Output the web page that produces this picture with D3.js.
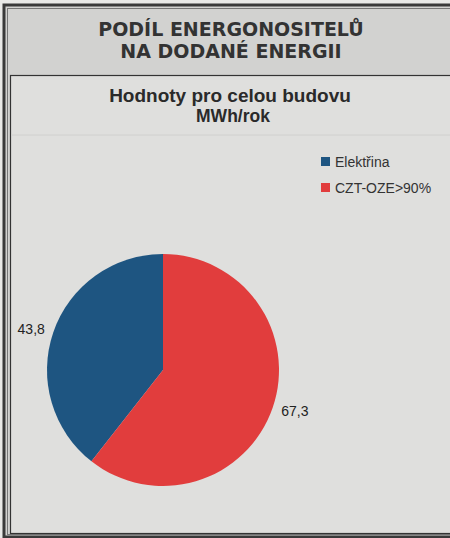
<!DOCTYPE html>
<html>
<head>
<meta charset="utf-8">
<script src="https://cdn.jsdelivr.net/npm/d3@7"></script>
<style>
  body { margin: 0; background: #e9e9e7; }
  text { font-family: "Liberation Sans", Arial, sans-serif; fill: #222; }
</style>
</head>
<body>
<div id="chart"></div>
<script>
// data
var categories = ["Elektřina", "CZT-OZE>90%"];
var values = [43.8, 67.3];
var labels = ["43,8", "67,3"];
var colors = ["#1e5581", "#e13d3d"];

var w = 450;
var h = 538;

var svg = d3.select("#chart").append("svg").attr("width", w).attr("height", h);

// outer frame
svg.append("rect").attr("x", 4).attr("y", 5).attr("width", w + 10).attr("height", h - 6)
    .attr("fill", "#d2d2d0").attr("stroke", "#3a3a3a").attr("stroke-width", 3);
svg.append("rect").attr("x", 7.5).attr("y", 8.5).attr("width", w + 10).attr("height", h - 12)
    .attr("fill", "none").attr("stroke", "#777").attr("stroke-width", 1);

// main title
var title = svg.append("text").attr("text-anchor", "middle")
    .style("font-family", "'DejaVu Sans', Verdana, sans-serif")
    .style("font-weight", "bold").style("font-size", "19px").style("fill", "#333");
title.append("tspan").attr("x", 231).attr("y", 36).text("PODÍL ENERGONOSITELŮ");
title.append("tspan").attr("x", 231).attr("y", 58).text("NA DODANÉ ENERGII");

// inner panel
svg.append("rect").attr("x", 10.5).attr("y", 75.5).attr("width", w).attr("height", 458)
    .attr("fill", "#dfdfdd").attr("stroke", "#333").attr("stroke-width", 1.2);

svg.append("line").attr("x1", 11).attr("x2", w).attr("y1", 135).attr("y2", 135)
    .attr("stroke", "#d0d0ce").attr("stroke-width", 1);

svg.append("text").attr("x", 230).attr("y", 102).attr("text-anchor", "middle")
    .style("font-weight", "bold").style("font-size", "19px").style("fill", "#2a2a2a")
    .text("Hodnoty pro celou budovu");
svg.append("text").attr("x", 233).attr("y", 122).attr("text-anchor", "middle")
    .style("font-weight", "bold").style("font-size", "17.5px").style("fill", "#2a2a2a")
    .text("MWh/rok");

// legend
var legend = svg.selectAll(".legend").data(categories).enter().append("g")
    .attr("class", "legend")
    .attr("transform", function(d, i) { return "translate(321," + (157 + i * 26) + ")"; });
legend.append("rect").attr("width", 9).attr("height", 9)
    .attr("fill", function(d, i) { return colors[i]; });
legend.append("text").attr("x", 14).attr("y", 10)
    .style("font-size", "14px").style("fill", "#333")
    .text(function(d) { return d; });

// pie
var cx = 163, cy = 370, r = 116;
var total = d3.sum(values);
var pie = d3.pie().sort(null)
    .startAngle(-2 * Math.PI * values[0] / total)
    .endAngle(2 * Math.PI - 2 * Math.PI * values[0] / total);
var arc = d3.arc().innerRadius(0).outerRadius(r);
var labelArc = d3.arc().innerRadius(r + 9).outerRadius(r + 9);

var g = svg.append("g").attr("transform", "translate(" + cx + "," + cy + ")");
var slices = pie(values);

g.selectAll("path").data(slices).enter().append("path")
    .attr("d", arc)
    .attr("fill", function(d, i) { return colors[i]; });

g.selectAll(".lbl").data(slices).enter().append("text")
    .attr("class", "lbl")
    .attr("transform", function(d) {
        var c = labelArc.centroid(d);
        return "translate(" + c[0] + "," + (c[1] + 5) + ")";
    })
    .attr("text-anchor", function(d) {
        return (d.startAngle + d.endAngle) / 2 < 0 ? "end" : "start";
    })
    .style("font-size", "14px").style("fill", "#222")
    .text(function(d, i) { return labels[i]; });
</script>
</body>
</html>
